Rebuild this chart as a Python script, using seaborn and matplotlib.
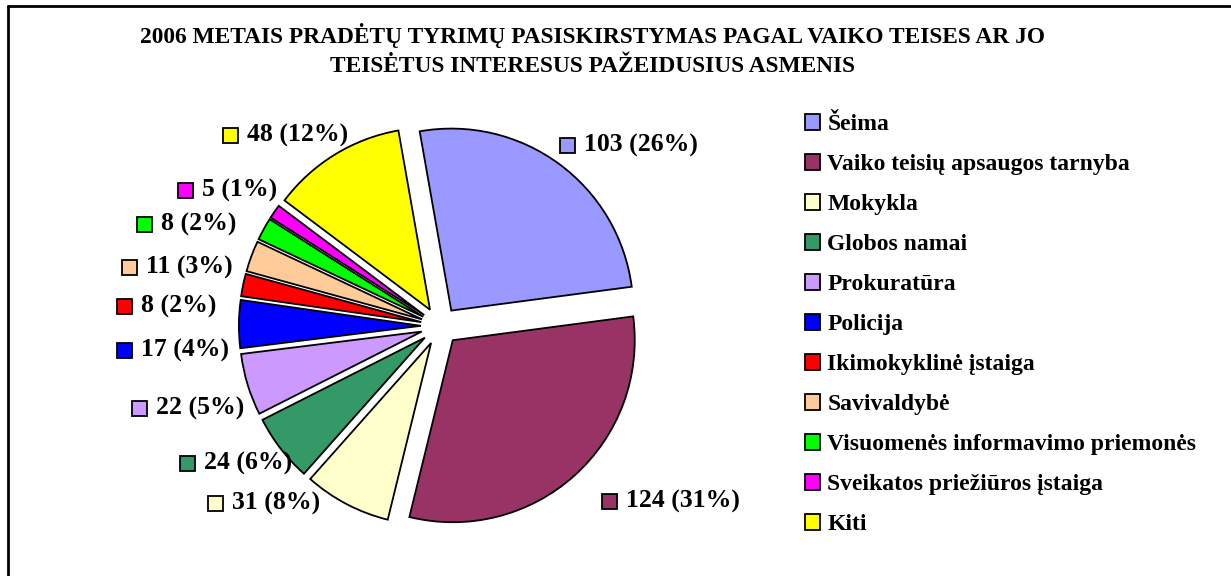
import matplotlib
matplotlib.use("Agg")
import matplotlib.pyplot as plt
from matplotlib.patches import Rectangle
from matplotlib.lines import Line2D
import seaborn as sns

sns.set_theme(style="white")
plt.rcParams["font.family"] = ["Liberation Serif", "DejaVu Serif"]
plt.rcParams["font.weight"] = "bold"
plt.rcParams["text.color"] = "black"

# ---- data ----
categories = [
    "Šeima",
    "Vaiko teisių apsaugos tarnyba",
    "Mokykla",
    "Globos namai",
    "Prokuratūra",
    "Policija",
    "Ikimokyklinė įstaiga",
    "Savivaldybė",
    "Visuomenės informavimo priemonės",
    "Sveikatos priežiūros įstaiga",
    "Kiti",
]
values = [103, 124, 31, 24, 22, 17, 8, 11, 8, 5, 48]
colors = ["#9999FF", "#993366", "#FFFFCC", "#339966", "#CC99FF", "#0000FF",
          "#FF0000", "#FFCC99", "#00FF00", "#FF00FF", "#FFFF00"]
title = ("2006 METAIS PRADĖTŲ TYRIMŲ PASISKIRSTYMAS PAGAL VAIKO TEISES AR JO\n"
         "TEISĖTUS INTERESUS PAŽEIDUSIUS ASMENIS")

# ---- layout (pixels) ----
W, H = 1231, 576
cx, cy, R = 440, 326, 182          # pie centre / radius in image px
half = 250
label_pos = [(560, 145), (602, 501), (208, 503), (180, 463), (132, 408),
             (117, 350), (117, 306), (122, 267), (137, 224), (178, 190),
             (223, 135)]
sq = 15
FS_LAB = 18.5
FS_LEG = 17

fig = plt.figure(figsize=(W / 100, H / 100), dpi=100)
fig.patch.set_facecolor("white")

ax = fig.add_axes([(cx - half) / W, (H - cy - half) / H, 2 * half / W, 2 * half / H])
lim = half / R
wedges, _ = ax.pie(values, colors=colors, startangle=100, counterclock=False,
                   explode=[0.105] * len(values), radius=1.0,
                   wedgeprops=dict(edgecolor="black", linewidth=1.3))
ax.set_xlim(-lim, lim)
ax.set_ylim(-lim, lim)
ax.set_aspect("equal")
ax.axis("off")

def fx(x):
    return x / W

def fy(y):
    return 1 - y / H

total = sum(values)
for v, c, (px, py) in zip(values, colors, label_pos):
    fig.add_artist(Rectangle((fx(px), fy(py + sq / 2)), sq / W, sq / H,
                             transform=fig.transFigure, facecolor=c,
                             edgecolor="black", linewidth=1.3))
    fig.text(fx(px + sq + 9), fy(py), f"{v} ({round(100 * v / total)}%)",
             fontsize=FS_LAB, fontweight="bold", ha="left", va="center",
             color="black")

# legend
leg = fig.legend(wedges, categories, loc="upper left",
                 bbox_to_anchor=(fx(805), fy(114)), frameon=False,
                 prop=dict(size=FS_LEG, weight="bold"),
                 handlelength=0.64, handleheight=0.64, handletextpad=0.3,
                 labelspacing=0.80, borderaxespad=0, borderpad=0)
for t in leg.get_texts():
    t.set_color("black")

# title
fig.text(fx(592), fy(50), title, ha="center", va="center", fontsize=16.8,
         fontweight="bold", linespacing=1.5, color="black")

# chart-area border (only left and top edges are visible)
fig.add_artist(Line2D([fx(8), fx(8)], [fy(6), 0], transform=fig.transFigure,
                      color="black", linewidth=2))
fig.add_artist(Line2D([fx(8), fx(1230)], [fy(6), fy(6)], transform=fig.transFigure,
                      color="black", linewidth=2))

fig.savefig("out.png", dpi=100)
